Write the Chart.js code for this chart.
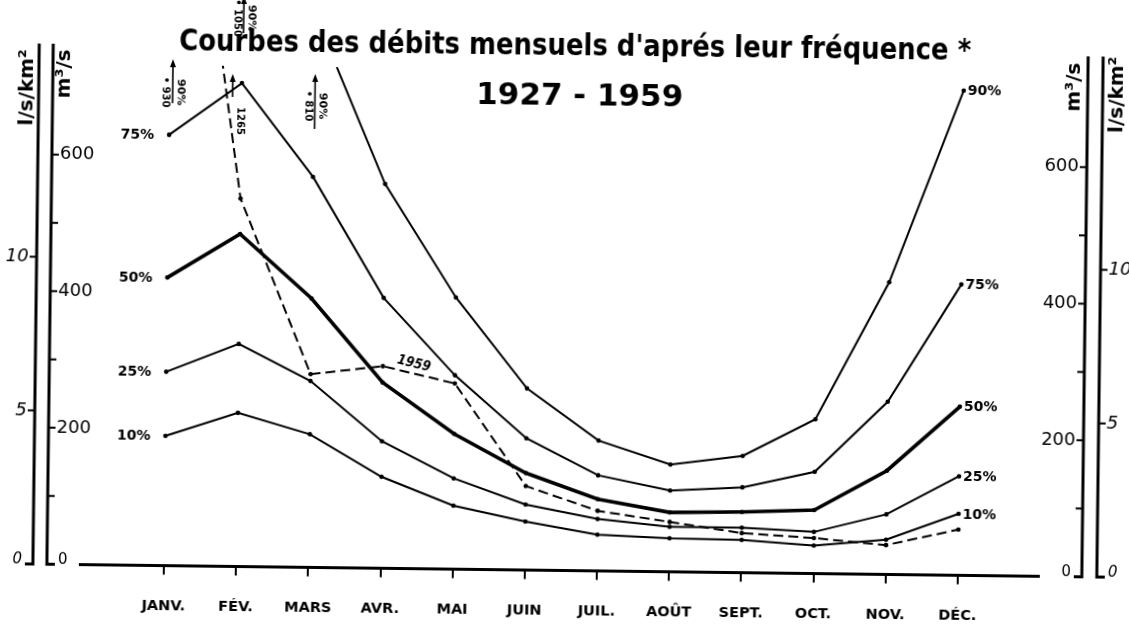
<!DOCTYPE html>
<html lang="fr">
<head>
<meta charset="utf-8">
<title>Courbes des débits mensuels d'aprés leur fréquence, 1927 - 1959</title>
<script src="https://cdn.jsdelivr.net/npm/chart.js@4.4.1/dist/chart.umd.min.js"></script>
<style>
  html, body { margin: 0; padding: 0; background: #fff; overflow: hidden; }
  #wrap { position: relative; width: 1129px; height: 625px; transform: rotate(0.7deg); transform-origin: 50% 50%; }
  canvas { display: block; }
</style>
</head>
<body>
<div id="wrap"><canvas id="c" width="1129" height="625"></canvas></div>
<script>
// Mois de l'année hydrologique
const MONTHS = ['JANV.', 'FÉV.', 'MARS', 'AVR.', 'MAI', 'JUIN', 'JUIL.', 'AOÛT', 'SEPT.', 'OCT.', 'NOV.', 'DÉC.'];

// Débits mensuels (m3/s) selon la fréquence, période 1927 - 1959
const Q90 = [930, 1050, 810, 563, 398, 266, 191, 157, 171, 226, 428, 710];
const Q75 = [631, 708, 572, 396, 284, 193, 140, 119, 125, 149, 253, 426];
const Q50 = [422, 487, 394, 272, 198, 142, 105, 87, 89, 93, 152, 247];
const Q25 = [284, 326, 273, 186, 133, 96, 76, 66, 66, 61, 88, 145];
const Q10 = [190, 225, 195, 134, 93, 71, 53, 49, 48, 41, 51, 90];
// Débits de l'année 1959
const Y1959 = [1265, 539, 283, 296, 272, 123, 88, 73, 58, 52, 43, 67];

// Graduations des axes
const M3S_TICKS = [100, 200, 300, 400, 500, 600];
const M3S_LABELS = [200, 400, 600];
const LSKM_TICKS = [5, 10];
const LSKM_LABELS = [5, 10];

// 1 l/s/km2 correspond à 45 m3/s (bassin d'environ 45 000 km2)
const M3S_PER_LSKM = 45;
const Y_MAX = 733;

// Mise en page
const PLOT = { left: 50, right: 1085, top: 70, bottom: 570.5 };
const X_AXIS_HEIGHT = 54;
const X_FIRST = 167, X_LAST = 961;
const PPU = (X_LAST - X_FIRST) / (MONTHS.length - 1);
const X_MIN = -(X_FIRST - PLOT.left) / PPU;
const X_MAX = X_MIN + (PLOT.right - PLOT.left) / PPU;
const AXIS_TOP = 50;
const FAMILY = '"DejaVu Sans", "Liberation Sans", sans-serif';
const font = (size, weight = 'normal', style = 'normal') => `${style} ${weight} ${size}px ${FAMILY}`;

function series(label, values, width, dash, ends) {
  return {
    label,
    data: values.map((v, i) => ({ x: i, y: v })),
    borderColor: '#000',
    backgroundColor: '#000',
    borderWidth: width,
    borderDash: dash,
    pointRadius: 2.3,
    pointHoverRadius: 2.3,
    pointBorderWidth: 0,
    tension: 0,
    fill: false,
    clip: { left: 10, right: 10, top: 0, bottom: 10 },
    endLabels: ends
  };
}

function arrowUp(ctx, x, top, bottom) {
  ctx.lineWidth = 1.6;
  ctx.beginPath(); ctx.moveTo(x, bottom); ctx.lineTo(x, top + 4); ctx.stroke();
  ctx.beginPath(); ctx.moveTo(x, top); ctx.lineTo(x - 3, top + 8); ctx.lineTo(x + 3, top + 8); ctx.closePath(); ctx.fill();
}

// Renvois pour les débits qui sortent du cadre (position de la flèche et du texte)
const NOTES_90 = [
  { index: 0, dx: 3, top: 64, bottom: 108, mid: 97 },
  { index: 1, dx: 1, top: 0, bottom: 37, mid: 22 },
  { index: 2, dx: 1, top: 77, bottom: 132, mid: 109 }
];

const decor = {
  id: 'decor',
  afterDraw(chart) {
    const { ctx, scales } = chart;
    const yq = scales.y, ys = scales.yls;
    const base = yq.getPixelForValue(0);
    ctx.save();
    ctx.strokeStyle = '#000';
    ctx.fillStyle = '#000';

    // Titre
    ctx.textAlign = 'center';
    ctx.textBaseline = 'middle';
    ctx.font = font(31, 'bold');
    ctx.fillText("Courbes des débits mensuels d'aprés leur fréquence *", 572, 47, 792);
    ctx.font = font(31, 'bold');
    ctx.fillText('1927 - 1959', 577, 97, 215);

    // Axe des abscisses
    ctx.lineWidth = 3;
    ctx.beginPath(); ctx.moveTo(82, base); ctx.lineTo(1043, base); ctx.stroke();

    // Axes verticaux doubles
    const axes = [
      { x: 36, side: -1, scale: ys, ticks: LSKM_TICKS, labels: LSKM_LABELS, italic: true, title: 'l/s/km²', tx: 25, ty: 94 },
      { x: 50, side: 1, scale: yq, ticks: M3S_TICKS, labels: M3S_LABELS, italic: false, title: 'm³/s', tx: 62, ty: 80 },
      { x: 1085, side: -1, scale: yq, ticks: M3S_TICKS, labels: M3S_LABELS, italic: false, title: 'm³/s', tx: 1072, ty: 81 },
      { x: 1100, side: 1, scale: ys, ticks: LSKM_TICKS, labels: LSKM_LABELS, italic: true, title: 'l/s/km²', tx: 1115, ty: 88 }
    ];
    for (const a of axes) {
      ctx.lineWidth = 3;
      ctx.beginPath();
      ctx.moveTo(a.x, AXIS_TOP);
      ctx.lineTo(a.x, base);
      ctx.lineTo(a.x + a.side * 8, base);
      ctx.stroke();
      ctx.lineWidth = 2;
      for (const v of a.ticks) {
        const py = a.scale.getPixelForValue(v);
        ctx.beginPath(); ctx.moveTo(a.x, py); ctx.lineTo(a.x + a.side * 7, py); ctx.stroke();
      }
      ctx.textAlign = a.side > 0 ? 'left' : 'right';
      ctx.textBaseline = 'middle';
      ctx.font = font(18, 'normal', a.italic ? 'italic' : 'normal');
      for (const v of a.labels) {
        ctx.fillText(String(v), a.x + a.side * 8, a.scale.getPixelForValue(v));
      }
      ctx.font = font(15, 'normal', a.italic ? 'italic' : 'normal');
      ctx.fillText('0', a.x + a.side * 11, base - 4);
      ctx.save();
      ctx.translate(a.tx, a.ty);
      ctx.rotate(-Math.PI / 2);
      ctx.textAlign = 'center';
      ctx.font = font(20, 'bold');
      ctx.fillText(a.title, 0, 0);
      ctx.restore();
    }

    // Étiquettes des fréquences aux extrémités des courbes
    ctx.font = font(14, 'bold');
    ctx.textBaseline = 'middle';
    chart.data.datasets.forEach((d, k) => {
      if (!d.endLabels) return;
      const pts = chart.getDatasetMeta(k).data;
      const first = d.data[0].y, last = d.data[d.data.length - 1].y;
      if (first <= Y_MAX) {
        ctx.textAlign = 'right';
        ctx.fillText(d.label, pts[0].x - 15, pts[0].y + 1);
      }
      if (last <= Y_MAX) {
        const p = pts[pts.length - 1];
        ctx.textAlign = 'left';
        ctx.fillText(d.label, p.x + 4, p.y + 1);
      }
    });

    // Renvois pour les valeurs de 90 % hors cadre
    const d90 = chart.data.datasets[0];
    const m90 = chart.getDatasetMeta(0).data;
    for (const n of NOTES_90) {
      const v = d90.data[n.index].y;
      const x = m90[n.index].x + n.dx;
      arrowUp(ctx, x, n.top, n.bottom);
      ctx.save();
      ctx.translate(x, n.mid);
      ctx.rotate(Math.PI / 2);
      ctx.textAlign = 'center';
      ctx.font = font(11, 'bold');
      ctx.textBaseline = 'bottom';
      ctx.fillText(d90.label, 0, -2);
      ctx.font = font(10, 'bold');
      ctx.textBaseline = 'top';
      ctx.fillText('• ' + v, 0, 2);
      ctx.restore();
    }

    // Année 1959 : renvoi du débit de janvier et nom de la courbe
    const k59 = chart.data.datasets.length - 1;
    const d59 = chart.data.datasets[k59];
    const m59 = chart.getDatasetMeta(k59).data;
    const top = chart.chartArea.top;
    const t = (top - m59[0].y) / (m59[1].y - m59[0].y);
    const xc = m59[0].x + t * (m59[1].x - m59[0].x);
    arrowUp(ctx, xc + 10, top + 8, top + 31);
    ctx.save();
    ctx.translate(xc + 18, top + 55);
    ctx.rotate(Math.PI / 2);
    ctx.textAlign = 'center';
    ctx.textBaseline = 'middle';
    ctx.font = font(10, 'bold');
    ctx.fillText(String(d59.data[0].y), 0, 0);
    ctx.restore();

    const a = m59[3], b = m59[4];
    const ang = Math.atan2(b.y - a.y, b.x - a.x);
    ctx.save();
    ctx.translate((a.x + b.x) / 2 - 5, (a.y + b.y) / 2 - 11);
    ctx.rotate(ang);
    ctx.textAlign = 'center';
    ctx.textBaseline = 'middle';
    ctx.font = font(14, 'bold', 'italic');
    ctx.fillText(d59.label, 0, 0, 34);
    ctx.restore();

    ctx.restore();
  }
};

new Chart(document.getElementById('c'), {
  type: 'line',
  data: {
    datasets: [
      series('90%', Q90, 2, [], true),
      series('75%', Q75, 2, [], true),
      series('50%', Q50, 3.6, [], true),
      series('25%', Q25, 2, [], true),
      series('10%', Q10, 2, [], true),
      series('1959', Y1959, 2, [10, 5], false)
    ]
  },
  options: {
    responsive: false,
    animation: false,
    devicePixelRatio: 1,
    events: [],
    layout: { padding: { left: PLOT.left, right: 1129 - PLOT.right, top: PLOT.top, bottom: 625 - PLOT.bottom - X_AXIS_HEIGHT } },
    plugins: { legend: { display: false }, title: { display: false }, tooltip: { enabled: false } },
    scales: {
      x: {
        type: 'linear',
        min: X_MIN,
        max: X_MAX,
        afterBuildTicks: s => { s.ticks = MONTHS.map((m, i) => ({ value: i })); },
        afterFit: s => { s.height = X_AXIS_HEIGHT; },
        ticks: {
          autoSkip: false,
          maxRotation: 0,
          padding: 23,
          color: '#000',
          font: { family: FAMILY, size: 14.5, weight: 'bold' },
          callback: v => MONTHS[v]
        },
        grid: { drawOnChartArea: false, drawTicks: true, tickLength: 9, color: '#000', lineWidth: 2 },
        border: { display: false }
      },
      y: { type: 'linear', display: false, min: 0, max: Y_MAX },
      yls: { type: 'linear', display: false, min: 0, max: Y_MAX / M3S_PER_LSKM }
    }
  },
  plugins: [decor]
});
</script>
</body>
</html>
